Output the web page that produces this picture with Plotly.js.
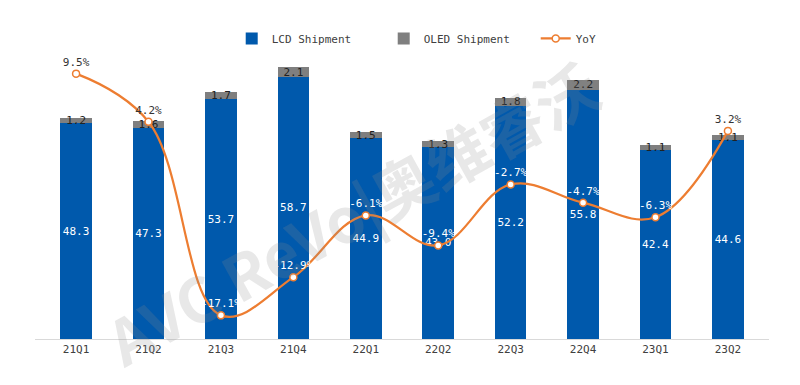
<!DOCTYPE html>
<html>
<head>
<meta charset="utf-8">
<script src="https://cdn.plot.ly/plotly-3.0.1.min.js"></script>
<style>html,body{margin:0;padding:0;background:#fff;}#chart{width:800px;height:385px;}</style>
</head>
<body>
<div id="chart"></div>
<script>
const quarters = ["21Q1","21Q2","21Q3","21Q4","22Q1","22Q2","22Q3","22Q4","23Q1","23Q2"];
const lcdShipment = [48.3,47.3,53.7,58.7,44.9,43.0,52.2,55.8,42.4,44.6];
const oledShipment = [1.2,1.6,1.7,2.1,1.5,1.3,1.8,2.2,1.1,1.1];
const yoy = [9.5,4.2,-17.1,-12.9,-6.1,-9.4,-2.7,-4.7,-6.3,3.2];
const yoyLabelColors = ["#333333","#333333","#ffffff","#ffffff","#ffffff","#ffffff","#ffffff","#ffffff","#ffffff","#333333"];

const FONT = "DejaVu Sans Mono, Liberation Mono, monospace";

const traces = [
  {
    type: "bar", name: "LCD Shipment", x: quarters, y: lcdShipment,
    marker: {color: "#0059AC"},
    text: lcdShipment.map(v => v.toFixed(1)),
    textposition: "inside", insidetextanchor: "middle", textangle: 0,
    constraintext: "none",
    textfont: {color: "#ffffff", size: 11, family: FONT},
    hoverinfo: "x+y"
  },
  {
    type: "bar", name: "OLED Shipment", x: quarters, y: oledShipment,
    marker: {color: "#7F7F7F"},
    text: oledShipment.map(v => v.toFixed(1)),
    textposition: "inside", insidetextanchor: "middle", textangle: 0,
    constraintext: "none",
    textfont: {color: "#222222", size: 11, family: FONT},
    hoverinfo: "x+y"
  },
  {
    type: "scatter", mode: "lines+markers+text", name: "YoY", x: quarters, y: yoy,
    yaxis: "y2",
    line: {color: "#ED7D31", width: 2.2, shape: "spline", smoothing: 1.1},
    marker: {color: "#ffffff", size: 7, line: {color: "#ED7D31", width: 1.5}},
    text: yoy.map(v => v.toFixed(1) + "%"),
    textposition: "top center",
    textfont: {color: yoyLabelColors, size: 11, family: FONT},
    cliponaxis: false
  }
];

const layout = {
  width: 800, height: 385,
  margin: {l: 35, r: 31, t: 50, b: 46, autoexpand: false},
  paper_bgcolor: "#ffffff", plot_bgcolor: "#ffffff",
  barmode: "stack", bargap: 0.565,
  font: {family: FONT, size: 11, color: "#404040"},
  showlegend: true,
  legend: {orientation: "h", x: 0.268, xanchor: "left", y: 1.04, yref: "paper", yanchor: "middle",
           font: {size: 11, color: "#404040", family: FONT}, itemwidth: 30,
           entrywidth: 107, entrywidthmode: "pixels", traceorder: "normal"},
  xaxis: {showline: true, linecolor: "#D9D9D9", linewidth: 1, ticks: "", showgrid: false,
          tickfont: {size: 11, color: "#404040", family: FONT}, fixedrange: true},
  yaxis: {range: [0, 64.7], visible: false, showgrid: false, zeroline: false, fixedrange: true},
  yaxis2: {range: [-19.7, 12.1], overlaying: "y", side: "right", visible: false,
           showgrid: false, zeroline: false, fixedrange: true},
  annotations: [
    {text: "<b>AVC ReVo|奥维睿沃</b>", xref: "paper", yref: "paper",
     x: 0.43, y: 0.44, showarrow: false, textangle: -29,
     font: {size: 62, color: "rgba(140,140,140,0.2)", family: "Noto Sans CJK SC, DejaVu Sans"}}
  ]
};

Plotly.newPlot("chart", traces, layout, {displayModeBar: false, staticPlot: true});
</script>
</body>
</html>
